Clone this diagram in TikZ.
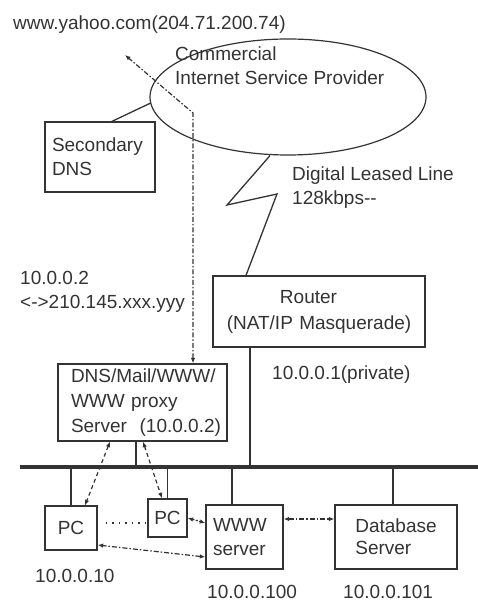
\documentclass[tikz,border=0pt]{standalone}
\usepackage{fontspec}
\setmainfont{Liberation Sans}
\usetikzlibrary{shapes.geometric,arrows.meta,calc}
\hyphenpenalty=10000
\exhyphenpenalty=10000
\definecolor{ink}{gray}{0.2}
\begin{document}
\begin{tikzpicture}[x=1pt,y=-1pt,
  every node/.style={font=\fontsize{19}{24}\selectfont, text=ink},
  box/.style={draw=ink, line width=1.3pt, rectangle, inner ysep=0pt, align=left},
  txt/.style={inner sep=0pt, anchor=base west, align=left},
  wire/.style={draw=ink, line width=1.3pt},
  bus/.style={draw=ink, line width=3.4pt},
  flow/.style={draw=ink, line width=1.2pt, {Latex[length=5.5pt,width=4.5pt]}-{Latex[length=5.5pt,width=4.5pt]}, dash pattern=on 4pt off 3pt},
  flowdot/.style={flow, dash pattern=on 5pt off 2pt on 1.5pt off 2pt},
  dotline/.style={draw=ink, line width=1.2pt, dash pattern=on 1.5pt off 5pt},
]
\useasboundingbox (0,0) rectangle (478,601);

% provider cloud and its caption
\node[draw=ink, ellipse, line width=1.2pt, minimum width=276pt, minimum height=116pt, inner sep=0pt] (isp) at (288,97) {};
\node[txt] (isptxt) at (175,85) {Commercial\\Internet Service Provider};

% outside host
\node[txt] (yahoo) at (13,29.5) {www.yahoo.com(204.71.200.74)};

% boxes
\node[box, minimum height=70pt, text width=96pt, inner xsep=7pt] (sdns) at (100,157) {Secondary\\DNS};
\node[box, minimum height=71pt, text width=200pt, inner xsep=6pt, align=center,
      font=\fontsize{19}{26}\selectfont] (router) at (319,311.5) {\hspace*{-21pt}Router\\(NAT/IP Masquerade)};
\node[box, minimum height=77pt, text width=143pt, inner xsep=13pt,
      font=\fontsize{19}{25}\selectfont] (dns) at (142.5,402.5) {DNS/Mail/WWW/\\WWW proxy\\Server~~(10.0.0.2)};
\node[box, minimum width=52pt, minimum height=44pt, align=center, inner xsep=0pt] (pc1) at (71,528) {PC};
\node[box, minimum width=39pt, minimum height=38pt, align=center, inner xsep=0pt] (pc2) at (167.5,518) {PC};
\node[box, minimum height=64pt, text width=63pt, inner xsep=7pt] (www) at (244.5,537) {WWW\\server};
\node[box, minimum width=122pt, minimum height=64pt, inner xsep=0pt,
      font=\fontsize{19}{22}\selectfont] (db) at (396,537) {Database\\Server};

% address labels
\node[txt] (leased) at (292,205) {Digital Leased Line\\128kbps-{}-};
\node[txt] (natmap) at (20,308) {10.0.0.2\\<->210.145.xxx.yyy};
\node[txt] (rtrip) at (272,379) {10.0.0.1(private)};
\node[txt] (pc1ip) at (35,582) {10.0.0.10};
\node[txt] (wwwip) at (207,598.5) {10.0.0.100};
\node[txt] (dbip) at (343,598.5) {10.0.0.101};

% LAN backbone
\coordinate (busL) at (20,467);
\coordinate (busR) at (478,467);
\draw[bus] (busL) -- (busR);

% drops onto the backbone
\draw[wire] ([xshift=-69pt]router.south) -- ([xshift=-69pt]router.south |- busL);
\draw[wire] ([xshift=-6.5pt]dns.south) -- ([xshift=-6.5pt]dns.south |- busL);
\draw[wire] (pc1.north) -- (pc1.north |- busL);
\draw[wire] (pc2.north) -- (pc2.north |- busL);
\draw[wire] ([xshift=-12.5pt]www.north) -- ([xshift=-12.5pt]www.north |- busL);
\draw[wire] ([xshift=-3pt]db.north) -- ([xshift=-3pt]db.north |- busL);

% secondary DNS hangs off the provider
\coordinate (ispW) at (150.7,103);
\draw[wire] ([xshift=12pt]sdns.north) -- (ispW);

% leased line (lightning)
\coordinate (zzA) at (227,205);
\coordinate (zzB) at (277,194);
\draw[wire, line join=miter] ([xshift=-18pt]isp.south) -- (zzA) -- (zzB) -- ([xshift=-73pt]router.north);

% proxy traffic out to the internet host
\coordinate (bend) at (193,113);
\coordinate (extTip) at (125,55);
\draw[flowdot] ([xshift=50.5pt]dns.north) -- (bend) -- (extTip);

% traffic inside the LAN
\draw[flow] ([xshift=-32.5pt]dns.south) -- ([xshift=14pt]pc1.north);
\draw[flow] ([xshift=0.5pt]dns.south) -- ([xshift=-5.5pt]pc2.north);
\draw[dotline] ([xshift=8pt,yshift=5pt]pc1.east) -- ([yshift=-5pt]pc2.west);
\draw[flow, dash pattern=on 2pt off 1.5pt] (pc2.east) -- ([yshift=14pt]www.west);
\draw[flowdot] ([yshift=18pt]www.east) -- ([yshift=18pt]db.west);
\draw[flowdot] ([yshift=-20pt]www.west) -- ([yshift=-17pt]pc1.east);
\end{tikzpicture}
\end{document}
